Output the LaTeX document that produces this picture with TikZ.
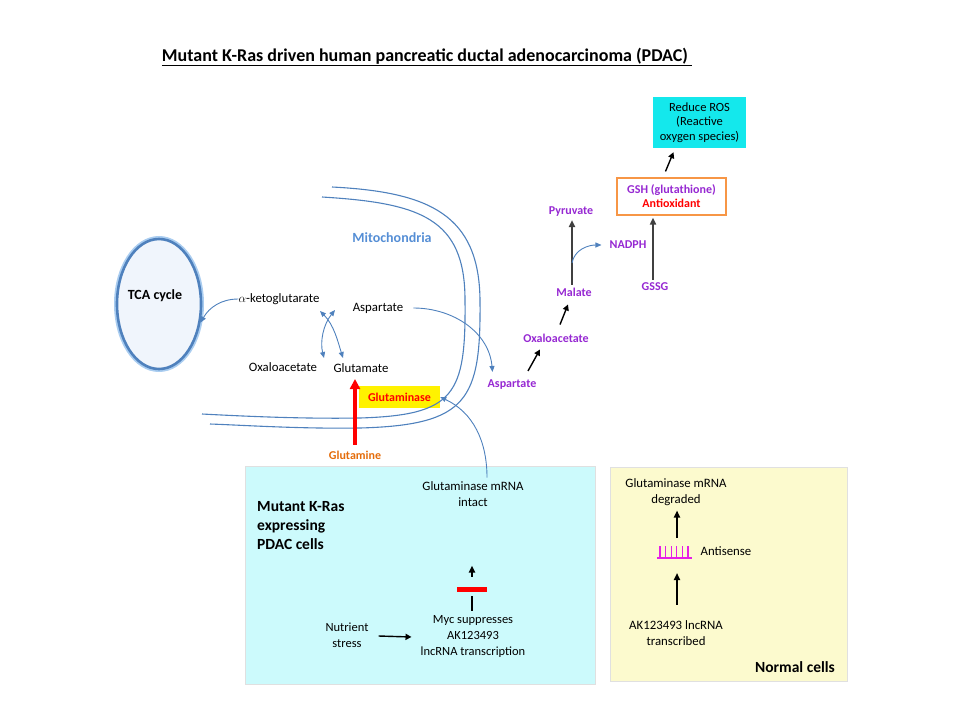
\documentclass[tikz,border=0pt]{standalone}
\usepackage{fontspec}
\setmainfont{Carlito}
\usetikzlibrary{arrows.meta,shapes.geometric,calc}
\definecolor{mblue}{RGB}{79,129,189}
\definecolor{mitoblue}{RGB}{85,142,213}
\definecolor{glowblue}{RGB}{170,205,240}
\definecolor{tcafill}{RGB}{240,245,252}
\definecolor{purp}{RGB}{150,40,210}
\definecolor{orng}{RGB}{228,108,10}
\definecolor{boxorange}{RGB}{247,150,70}
\definecolor{roscyan}{RGB}{20,232,236}
\definecolor{mutfill}{RGB}{204,250,252}
\definecolor{normfill}{RGB}{252,250,206}
\definecolor{darkg}{RGB}{64,64,64}
\definecolor{magent}{RGB}{230,30,230}
\definecolor{redc}{RGB}{255,0,0}
\newcommand\myfsn{\fontsize{12.8}{15.5}\selectfont}
\newcommand\myfsb{\fontsize{12}{14}\selectfont\bfseries}
\newcommand\myfsl{\fontsize{15.5}{19}\selectfont\bfseries}
\begin{document}
\begin{tikzpicture}[x=1pt,y=-1pt,
  txt/.style={inner sep=0pt,align=center,font=\myfsn},
  ptxt/.style={inner sep=0pt,align=center,font=\myfsb,text=purp},
  memb/.style={draw=mblue,line width=1.1pt},
  bluearr/.style={draw=mblue,line width=0.9pt,-{Triangle[length=6pt,width=5pt]}},
  blkarr/.style={draw=black,line width=1.4pt,-{Triangle[length=6pt,width=6pt]}},
  grayarr/.style={draw=darkg,line width=2pt,-{Triangle[length=7pt,width=6pt]}},
  panel/.style={draw=black!12,line width=0.6pt}]
\useasboundingbox (0,0) rectangle (960,720);

% title
\node[inner sep=0pt,font=\fontsize{18}{21}\selectfont\bfseries] (title) at (427,57) {\underline{Mutant K-Ras driven human pancreatic ductal adenocarcinoma (PDAC)\ }};

% TCA ellipse
\node[ellipse,draw=glowblue,line width=6pt,minimum width=84pt,minimum height=130pt,inner sep=0pt] (tcaglow) at (159,304) {};
\node[ellipse,draw=mblue,fill=tcafill,line width=2.6pt,minimum width=84pt,minimum height=130pt,inner sep=0pt] (tca) at (159,304) {};
\node[inner sep=0pt,font=\fontsize{14}{16}\selectfont\bfseries] (tcal) at (155,296) {TCA cycle};

% mitochondria
\node[inner sep=0pt,font=\fontsize{14}{16}\selectfont\bfseries,text=mitoblue] (mito) at (392,238) {Mitochondria};

\node[txt] (ak) at (279,299) {$\alpha$-ketoglutarate};
\node[txt] (aspi) at (378,308) {Aspartate};
\node[txt] (oxi) at (283,367) {Oxaloacetate};
\node[txt] (glu) at (361,368) {Glutamate};
\node[fill=yellow,minimum width=81pt,minimum height=22pt,inner sep=0pt,font=\myfsb,text=redc] (gls) at (399.5,397) {Glutaminase};
\node[inner sep=0pt,font=\myfsb,text=orng] (gln) at (355,455) {Glutamine};

% membranes
\draw[memb] (322,197) .. controls (420,203) and (465,218) .. (465,300) .. controls (466,395) and (455,415) .. (360,418) .. controls (300,419) and (240,416) .. (202,414);
\draw[memb] (332,187) .. controls (430,192) and (479,215) .. (480,300) .. controls (481,400) and (468,425) .. (360,428) .. controls (300,429) and (240,425) .. (210,424);

% purple pathway
\node[ptxt] (aspo) at (512,385) {Aspartate};
\node[ptxt] (oxo) at (556,338) {Oxaloacetate};
\node[ptxt] (mal) at (574,292) {Malate};
\node[ptxt] (pyr) at (571,212) {Pyruvate};
\node[ptxt] (nadph) at (628,245) {NADPH};
\node[ptxt] (gssg) at (655,287) {GSSG};
\node[draw=boxorange,line width=1.2pt,fill=white,minimum width=109pt,minimum height=37pt,inner sep=0pt,align=center,font=\myfsb] (gsh) at (671.5,196.5) {\textcolor{purp}{GSH (glutathione)}\\\textcolor{redc}{Antioxidant}};
\node[fill=roscyan,minimum width=93pt,minimum height=51pt,inner sep=0pt,align=center,font=\fontsize{12.5}{14.5}\selectfont] (ros) at (699.5,122.5) {Reduce ROS\\(Reactive\\oxygen species)};

% connectors in mitochondria
\draw[bluearr] (ak.west) to[out=180,in=60] (tca.-24);
\coordinate (c1) at (320,311);
\coordinate (c2) at (343,358);
\coordinate (c3) at (335,310);
\coordinate (c4) at (324,358);
\draw[draw=mblue,line width=0.9pt,{Triangle[length=6pt,width=5pt]}-{Triangle[length=6pt,width=5pt]}] (c1) .. controls (334,325) and (338,342) .. (c2);
\draw[draw=mblue,line width=0.9pt,{Triangle[length=6pt,width=5pt]}-{Triangle[length=6pt,width=5pt]}] (c3) .. controls (323,325) and (320,342) .. (c4);
\draw[bluearr] ($(aspi.east)+(10,0)$) to[out=0,in=95] ($(aspo.north west)+(5,-8)$);
\draw[draw=redc,line width=3.6pt,-{Triangle[length=10pt,width=10pt]}] ($(gln.north)+(0,-6)$) -- (355,379);

% purple arrows
\draw[blkarr] ($(aspo.north)+(16,-9)$) -- ($(oxo.south)+(-16,7)$);
\draw[blkarr] ($(oxo.north)+(4,-9)$) -- ($(mal.south)+(-6,8)$);
\draw[grayarr] ($(mal.north)+(-2,-3)$) -- ($(pyr.south)+(1,3)$);
\coordinate (mp) at (572,263);
\draw[bluearr] (mp) to[out=80,in=180] ($(nadph.west)+(-8,0)$);
\draw[grayarr] ($(gssg.north)+(-2,-3)$) -- ($(gsh.south)+(-18.5,2)$);
\draw[blkarr] ($(gsh.north)+(-6,-6)$) -- ($(ros.south)+(-26,4)$);

% mutant panel
\node[panel,fill=mutfill,minimum width=350pt,minimum height=218pt,inner sep=0pt] (mutbox) at (420,575) {};
\node[txt] (gmi) at (473,494) {Glutaminase mRNA\\intact};
\node[inner sep=0pt,align=left,anchor=west,font=\myfsl] (mut) at (257,526) {Mutant K-Ras\\expressing\\PDAC cells};
\node[txt,font=\fontsize{12.5}{16}\selectfont] (myc) at (473,636) {Myc suppresses\\AK123493\\lncRNA transcription};
\node[txt,font=\fontsize{12.5}{16}\selectfont] (ns) at (347,635) {Nutrient\\stress};
\node[fill=redc,minimum width=30pt,minimum height=5.5pt,inner sep=0pt] (bar) at (472,589.5) {};
\draw[draw=black,line width=1.8pt] ($(myc.north)+(-1,-4)$) -- ($(bar.south)+(0,4)$);
\draw[draw=black,line width=1.8pt,-{Triangle[length=7pt,width=6pt]}] ($(bar.north)+(0,-10)$) -- ($(bar.north)+(0,-21)$);
\draw[blkarr] ($(ns.east)+(10,1)$) -- ($(myc.west)+(-9,1)$);
\draw[bluearr] ($(gmi.north)+(14,-4)$) to[out=90,in=-25] (gls.east);

% normal panel
\node[panel,fill=normfill,minimum width=237pt,minimum height=214pt,inner sep=0pt] (normbox) at (728.5,574) {};
\node[txt] (gmd) at (676,492) {Glutaminase mRNA\\degraded};
\node[txt] (anti) at (726,551) {Antisense};
\node[txt] (ak2) at (676,633) {AK123493 lncRNA\\transcribed};
\node[inner sep=0pt,font=\myfsl] (norm) at (795,667) {Normal cells};
\coordinate (comb) at (657,558);
\draw[draw=magent,line width=1.3pt] (comb) -- ++(35,0);
\foreach \i in {0,...,5} {\draw[draw=magent,line width=1.3pt] ($(comb)+(3+5.6*\i,0)$) -- ++(0,-12);}
\draw[draw=black,line width=1.8pt,-{Triangle[length=7pt,width=6pt]}] ($(ak2.north)+(1,-16)$) -- ($(comb)+(20,15)$);
\draw[draw=black,line width=1.8pt,-{Triangle[length=7pt,width=6pt]}] ($(comb)+(20,-20)$) -- ($(gmd.south)+(1,5)$);
\end{tikzpicture}
\end{document}
